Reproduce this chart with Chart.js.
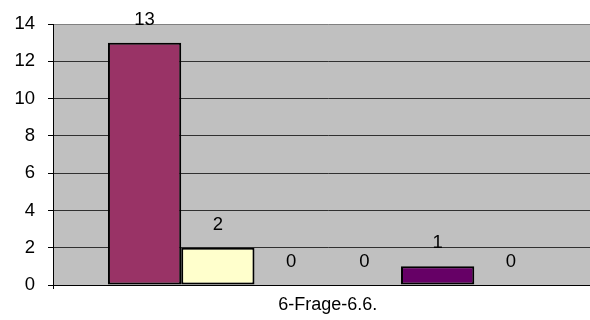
<!DOCTYPE html>
<html>
<head>
<meta charset="utf-8">
<script src="https://cdn.jsdelivr.net/npm/chart.js@4.4.1/dist/chart.umd.min.js"></script>
<style>
  html, body { margin: 0; padding: 0; overflow: hidden; background: #fff; }
  #wrap { width: 590px; height: 320px; overflow: hidden; }
</style>
</head>
<body>
<div id="wrap"><canvas id="chart" width="604" height="320"></canvas></div>
<script>
const categories = ['6-Frage-6.6.'];
const seriesNames = ['Antwort 1', 'Antwort 2', 'Antwort 3', 'Antwort 4', 'Antwort 5', 'Antwort 6'];
const seriesValues = [13, 2, 0, 0, 1, 0];
const seriesColors = ['#993366', '#FFFFCC', '#CCFFFF', '#FF8080', '#660066', '#0066CC'];
const yTicks = [0, 2, 4, 6, 8, 10, 12, 14];

const fontFamily = 'Arial, "Liberation Sans", sans-serif';

// grey plot area like the old office charts
const plotBackground = {
  id: 'plotBackground',
  beforeDraw(chart) {
    const a = chart.chartArea;
    const ctx = chart.ctx;
    ctx.save();
    ctx.fillStyle = '#C0C0C0';
    ctx.fillRect(a.left, a.top, a.right - a.left, a.bottom - a.top);
    ctx.restore();
  }
};

// value above every bar, zero ones too
const valueLabels = {
  id: 'valueLabels',
  afterDatasetsDraw(chart) {
    const ctx = chart.ctx;
    ctx.save();
    ctx.font = '18.5px ' + fontFamily;
    ctx.fillStyle = '#000';
    ctx.textAlign = 'center';
    ctx.textBaseline = 'middle';
    chart.data.datasets.forEach((ds, i) => {
      const bar = chart.getDatasetMeta(i).data[0];
      ctx.fillText(String(ds.data[0]), bar.x, bar.y - 23);
    });
    ctx.restore();
  }
};

const ctx = document.getElementById('chart').getContext('2d');
new Chart(ctx, {
  type: 'bar',
  data: {
    labels: categories,
    datasets: seriesNames.map((name, i) => ({
      label: name,
      data: [seriesValues[i]],
      backgroundColor: seriesColors[i],
      borderColor: '#000',
      borderWidth: 2,
      borderSkipped: false,
      categoryPercentage: 0.8,
      barPercentage: 1.0
    }))
  },
  options: {
    responsive: false,
    animation: false,
    layout: { padding: { top: 24, right: 1.5, left: 0, bottom: 0 } },
    plugins: {
      legend: { display: false },
      tooltip: { enabled: false }
    },
    scales: {
      x: {
        offset: true,
        grid: {
          offset: true,
          drawOnChartArea: false,
          tickLength: 4,
          tickColor: '#000'
        },
        border: { color: '#000', width: 1 },
        ticks: {
          color: '#000',
          padding: 5,
          font: { family: fontFamily, size: 18 }
        },
        afterFit(scale) { scale.height = 35; }
      },
      y: {
        min: 0,
        max: 14,
        afterBuildTicks(scale) { scale.ticks = yTicks.map(v => ({ value: v })); },
        grid: {
          color: c => (c.tick && c.tick.value === 14) ? '#808080' : '#303030',
          lineWidth: 1,
          tickLength: 5,
          tickColor: '#000'
        },
        border: { color: '#000', width: 1 },
        ticks: {
          color: '#000',
          padding: 13,
          font: { family: fontFamily, size: 18.5 }
        },
        afterFit(scale) { scale.width = 53; }
      }
    }
  },
  plugins: [plotBackground, valueLabels]
});
</script>
</body>
</html>
